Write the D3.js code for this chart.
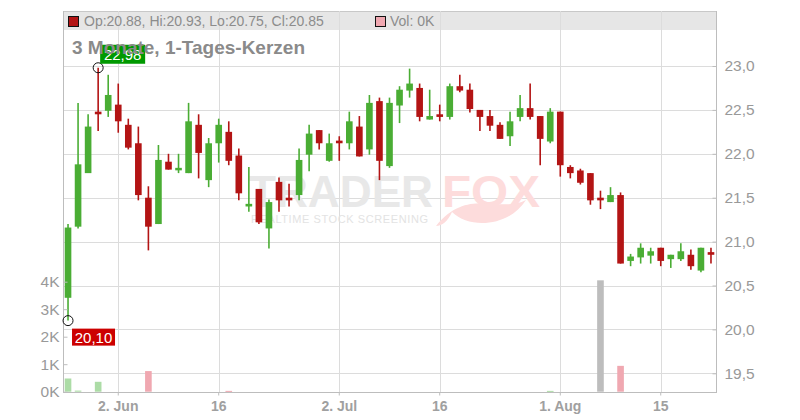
<!DOCTYPE html>
<html><head><meta charset="utf-8">
<script src="https://cdn.jsdelivr.net/npm/d3@7"></script>
<style>body{margin:0;background:#fff}svg{display:block;font-family:"Liberation Sans",Arial,sans-serif}</style>
</head><body><svg id="c" width="800" height="420"></svg>
<script>
const dates = ["2025-05-26","2025-05-27","2025-05-28","2025-05-29","2025-05-30",
"2025-06-02","2025-06-03","2025-06-04","2025-06-05","2025-06-06","2025-06-09","2025-06-10","2025-06-11","2025-06-12","2025-06-13",
"2025-06-16","2025-06-17","2025-06-18","2025-06-19","2025-06-20","2025-06-23","2025-06-24","2025-06-25","2025-06-26","2025-06-27","2025-06-30",
"2025-07-01","2025-07-02","2025-07-03","2025-07-04","2025-07-07","2025-07-08","2025-07-09","2025-07-10","2025-07-11",
"2025-07-14","2025-07-15","2025-07-16","2025-07-17","2025-07-18","2025-07-21","2025-07-22","2025-07-23","2025-07-24","2025-07-25",
"2025-07-28","2025-07-29","2025-07-30","2025-07-31","2025-08-01","2025-08-04","2025-08-05","2025-08-06","2025-08-07","2025-08-08",
"2025-08-11","2025-08-12","2025-08-13","2025-08-14","2025-08-15","2025-08-18","2025-08-19","2025-08-20","2025-08-21","2025-08-22"];
const open  = [20.36,21.17,21.78,22.48,22.49,22.56,22.33,22.12,21.50,21.20,21.91,21.82,21.78,22.33,21.70,22.12,22.25,21.98,21.40,21.60,21.15,21.68,21.50,21.53,21.99,22.27,21.92,22.15,22.12,22.31,22.05,22.60,21.86,22.55,22.72,22.75,22.39,22.45,22.42,22.77,22.73,22.50,22.43,22.33,22.20,22.42,22.52,22.43,22.14,22.48,21.85,21.81,21.78,21.50,21.45,21.53,20.78,20.82,20.84,20.93,20.80,20.80,20.85,20.67,20.88];
const high  = [21.20,22.58,22.45,22.98,22.90,22.80,22.40,22.31,21.63,22.10,22.00,22.00,22.58,22.45,22.18,22.40,22.37,22.06,21.85,21.60,21.48,21.73,21.66,22.06,22.33,22.27,22.23,22.20,22.48,22.43,22.67,22.64,22.64,22.77,22.97,22.80,22.73,22.56,22.80,22.90,22.80,22.50,22.50,22.36,22.48,22.67,22.80,22.43,22.52,22.48,21.87,21.83,21.78,21.58,21.62,21.56,20.86,20.98,20.93,20.93,20.85,20.98,20.91,20.93,20.93];
const low   = [20.10,21.15,21.78,22.26,22.42,22.24,22.05,21.47,20.90,21.20,21.82,21.78,21.78,21.72,21.62,21.90,21.87,21.47,21.34,21.20,20.92,21.34,21.40,21.47,21.80,22.05,21.91,21.92,22.05,21.97,21.99,21.70,21.84,22.35,22.64,22.37,22.39,22.37,22.39,22.70,22.47,22.26,22.26,22.17,22.09,22.37,22.39,21.87,22.12,21.74,21.72,21.65,21.42,21.37,21.45,20.75,20.72,20.75,20.75,20.72,20.70,20.78,20.68,20.65,20.75];
const close = [21.16,21.88,22.31,22.45,22.67,22.37,22.07,21.53,21.17,21.93,21.82,21.84,22.37,22.01,22.12,22.33,21.92,21.55,21.43,21.22,21.45,21.47,21.47,21.93,22.23,22.12,22.12,22.12,22.37,21.97,22.58,21.92,22.58,22.73,22.80,22.42,22.43,22.42,22.77,22.72,22.51,22.42,22.32,22.17,22.37,22.52,22.42,22.17,22.48,21.87,21.78,21.67,21.47,21.47,21.53,20.75,20.83,20.93,20.89,20.78,20.85,20.89,20.72,20.93,20.85];
const volume = [480,40,0,360,0,0,0,0,750,0,0,0,0,0,0,0,30,0,0,0,0,0,0,0,0,0,0,0,0,0,0,0,0,0,0,0,0,0,0,0,0,0,0,0,0,0,0,0,30,0,0,0,0,4050,0,940,0,0,0,0,0,0,0,0,0];
const dateTicks = ["2025-06-02","2025-06-16","2025-07-02","2025-07-16","2025-08-01","2025-08-15"];
const dateTickLabels = ["2. Jun","16","2. Jul","16","1. Aug","15"];
const priceTicks = [19.5,20.0,20.5,21.0,21.5,22.0,22.5,23.0];
const volTicks = [0,1000,2000,3000,4000];
const title = "3 Monate, 1-Tages-Kerzen";
const legendText = "Op:20.88, Hi:20.93, Lo:20.75, Cl:20.85";
const volLegendText = "Vol: 0K";

const L=63,R=716,T=11,HB=30,B=392;
const GREEN="#4aad34",RED="#b31414",GRID="#dcdcdc",AX="#bdbdbd",TXT="#999";
const svg=d3.select("#c");
const x=d3.scaleBand().domain(dates).range([L,R]).paddingInner(0.34).paddingOuter(0.17);
const xc=d=>x(d)+x.bandwidth()/2;
const y=d3.scaleLinear().domain([19.5,23]).range([373.3,66]);
const yv=d3.scaleLinear().domain([0,4000]).range([391.7,281.7]);
const data=dates.map((d,i)=>({d,o:open[i],h:high[i],l:low[i],c:close[i],v:volume[i],pc:i?close[i-1]:null}));

// header band
svg.append("rect").attr("x",L).attr("y",T).attr("width",R-L).attr("height",HB-T).attr("fill","#e6e6e6");
svg.append("line").attr("x1",L).attr("x2",R).attr("y1",T+0.5).attr("y2",T+0.5).attr("stroke","#c8c8c8");

// grids
svg.append("g").selectAll("line").data(priceTicks).join("line")
 .attr("x1",L).attr("x2",R).attr("y1",d=>Math.round(y(d))+0.5).attr("y2",d=>Math.round(y(d))+0.5).attr("stroke",GRID);
svg.append("g").selectAll("line").data(dateTicks).join("line")
 .attr("x1",d=>Math.round(xc(d))+0.5).attr("x2",d=>Math.round(xc(d))+0.5).attr("y1",T).attr("y2",B).attr("stroke",GRID);

// watermark
const wm=svg.append("g").attr("font-weight","bold");
wm.append("text").attr("x",249).attr("y",207).attr("font-size",45).attr("fill","#e8e8e8").attr("textLength",184).attr("lengthAdjust","spacingAndGlyphs").text("TRADER");
wm.append("text").attr("x",442).attr("y",207).attr("font-size",45).attr("fill","#fddcdc").attr("textLength",98).attr("lengthAdjust","spacingAndGlyphs").text("FOX");
wm.append("path").attr("d","M436,226 C468,186 500,214 526,200 C510,226 470,230 452,212 C448,221 442,226 436,226 Z").attr("fill","#fddcdc");
svg.append("text").attr("x",251).attr("y",223).attr("font-size",11).attr("fill","#e3e3e3").attr("textLength",177).attr("lengthAdjust","spacing").text("REALTIME STOCK SCREENING");

// volume bars
svg.append("g").selectAll("rect").data(data.filter(d=>d.v>0)).join("rect")
 .attr("x",d=>x(d.d)).attr("width",x.bandwidth())
 .attr("y",d=>yv(d.v)).attr("height",d=>Math.max(1,yv(0)-yv(d.v)))
 .attr("fill",d=>d.pc===null||d.c>d.pc?"#acdca6":(d.c<d.pc?"#f0a8b1":"#bdbdbd"));

// candles
const cg=svg.append("g").selectAll("g").data(data).join("g");
cg.append("line").attr("x1",d=>xc(d.d)).attr("x2",d=>xc(d.d)).attr("y1",d=>y(d.h)).attr("y2",d=>y(d.l))
 .attr("stroke",d=>d.c>=d.o?GREEN:RED).attr("stroke-width",1.6);
cg.append("rect").attr("x",d=>x(d.d)).attr("width",x.bandwidth())
 .attr("y",d=>y(Math.max(d.o,d.c))).attr("height",d=>Math.max(2.5,Math.abs(y(d.o)-y(d.c))))
 .attr("fill",d=>d.c>=d.o?GREEN:RED);

// axes
const yAxisR=d3.axisRight(y).tickValues(priceTicks).tickSize(-4).tickPadding(8).tickFormat(d=>d3.format(".1f")(d).replace(".",","));
const gR=svg.append("g").attr("transform",`translate(${R+0.5},0)`).call(yAxisR);
const yAxisL=d3.axisLeft(yv).tickValues(volTicks).tickSize(-4).tickPadding(4).tickFormat(d=>(d/1000)+"K");
const gL=svg.append("g").attr("transform",`translate(${L+0.5},0)`).call(yAxisL);
const xAxis=d3.axisBottom(x).tickValues(dateTicks).tickSize(3).tickPadding(6).tickFormat(d=>dateTickLabels[dateTicks.indexOf(d)]);
const gB=svg.append("g").attr("transform",`translate(0,${B+0.5})`).call(xAxis);
[gR,gL,gB].forEach(g=>{g.select(".domain").remove();g.selectAll(".tick line").attr("stroke",AX);g.selectAll("text").attr("fill",TXT).attr("font-family","Liberation Sans, Arial, sans-serif");});
gR.selectAll("text").attr("font-size",15.5);
gL.selectAll("text").attr("font-size",15.5);
gB.selectAll("text").attr("font-size",14).attr("font-weight","bold").attr("fill","#a0a0a0");
svg.append("line").attr("x1",R+0.5).attr("x2",R+0.5).attr("y1",T).attr("y2",B+1).attr("stroke",AX);
svg.append("line").attr("x1",L+0.5).attr("x2",L+0.5).attr("y1",T).attr("y2",B+1).attr("stroke",AX);
svg.append("line").attr("x1",L).attr("x2",R+1).attr("y1",B+0.5).attr("y2",B+0.5).attr("stroke",AX);

// legend
svg.append("rect").attr("x",68.5).attr("y",16.5).attr("width",10).attr("height",10).attr("fill",RED).attr("stroke","#111");
svg.append("text").attr("x",84).attr("y",26).attr("font-size",14).attr("fill","#8c8c8c").text(legendText);
svg.append("rect").attr("x",375.5).attr("y",16.5).attr("width",10).attr("height",10).attr("fill","#f0a8b1").attr("stroke","#111");
svg.append("text").attr("x",390).attr("y",26).attr("font-size",14).attr("fill","#8c8c8c").text(volLegendText);

// hi / lo markers
const hiI=d3.maxIndex(high), loI=d3.minIndex(low);
const fmt=v=>d3.format(".2f")(v).replace(".",",");
svg.append("circle").attr("cx",xc(dates[hiI])).attr("cy",y(high[hiI])).attr("r",5).attr("fill","none").attr("stroke","#111");
svg.append("rect").attr("x",xc(dates[hiI])+2).attr("y",y(high[hiI])-23).attr("width",45).attr("height",19).attr("fill","#009900");
svg.append("text").attr("x",xc(dates[hiI])+24.5).attr("y",y(high[hiI])-8).attr("text-anchor","middle").attr("font-size",15).attr("fill","#fff").text(fmt(high[hiI]));
svg.append("circle").attr("cx",xc(dates[loI])).attr("cy",y(low[loI])).attr("r",5).attr("fill","none").attr("stroke","#111");
svg.append("rect").attr("x",xc(dates[loI])+4).attr("y",y(low[loI])+8).attr("width",43).attr("height",17).attr("fill","#cc0000");
svg.append("text").attr("x",xc(dates[loI])+25.5).attr("y",y(low[loI])+22).attr("text-anchor","middle").attr("font-size",15).attr("fill","#fff").text(fmt(low[loI]));

// title (drawn over the label)
svg.append("text").attr("x",72).attr("y",54).attr("font-size",19).attr("font-weight","bold").attr("fill","#8a8a8a").text(title);
</script></body></html>
